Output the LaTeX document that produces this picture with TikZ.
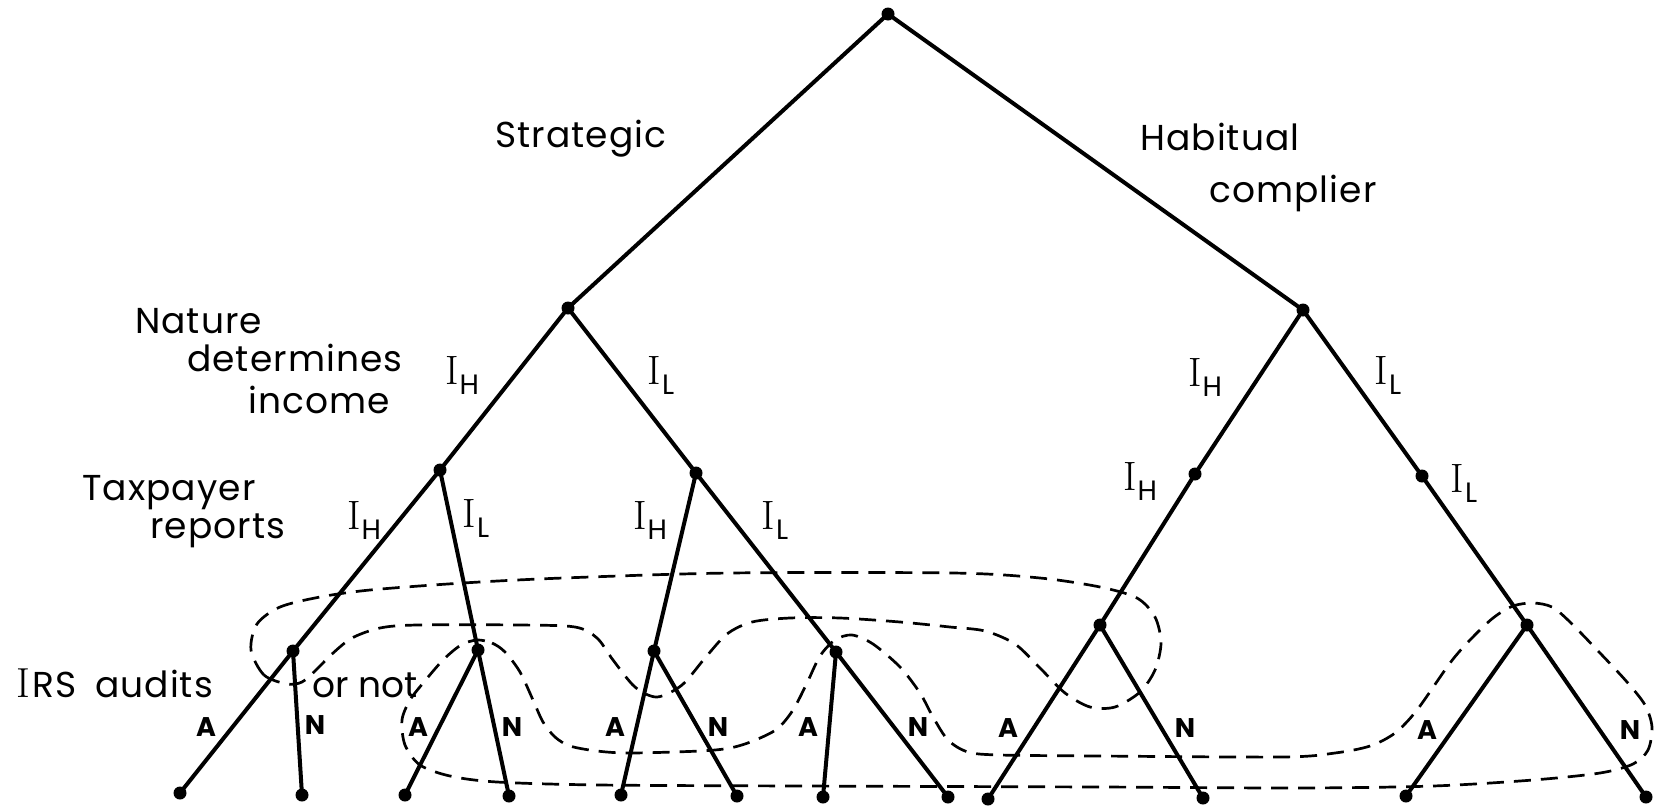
\documentclass[tikz,border=0pt]{standalone}
\usepackage{fontspec}
\newfontfamily\pop{Poppins}
\newfontfamily\popw{Poppins}[LetterSpace=3]
\newcommand\Isub[1]{{\rmfamily\fontsize{41}{41}\selectfont I}\kern1pt\raisebox{-10pt}{\pop\fontsize{28}{28}\selectfont #1}}
\tikzset{
  dot/.style={circle, fill=black, inner sep=0pt, minimum size=13pt},
  edge/.style={line width=4pt, line cap=round},
  infoset/.style={line width=2.7pt, dash pattern=on 17pt off 10pt},
  lev/.style={font=\popw\fontsize{36}{42}\selectfont, inner sep=0pt, anchor=base west},
  an/.style={font=\pop\bfseries\fontsize{27}{27}\selectfont, inner sep=0pt},
  il/.style={inner sep=0pt}
}
\begin{document}
\begin{tikzpicture}[x=1pt,y=-1pt]
\useasboundingbox (0,0) rectangle (1658,807);
% decision nodes
\node[dot] (root) at (888,14) {};
\node[dot] (S) at (568,308) {};
\node[dot] (H) at (1303,310) {};
\node[dot] (SH) at (440,470) {};
\node[dot] (SL) at (696,473) {};
\node[dot] (HH) at (1195,474) {};
\node[dot] (HL) at (1422,476) {};
\node[dot] (a1) at (293,651) {};
\node[dot] (a2) at (478,650) {};
\node[dot] (a3) at (654,651) {};
\node[dot] (a4) at (836,652) {};
\node[dot] (a5) at (1100,625) {};
\node[dot] (a6) at (1527,625) {};
% leaves
\node[dot] (l1a) at (180,793) {};
\node[dot] (l1n) at (302,795) {};
\node[dot] (l2a) at (405,795) {};
\node[dot] (l2n) at (509,796) {};
\node[dot] (l3a) at (621,795) {};
\node[dot] (l3n) at (737,796) {};
\node[dot] (l4a) at (823,797) {};
\node[dot] (l4n) at (948,797) {};
\node[dot] (l5a) at (988,799) {};
\node[dot] (l5n) at (1203,798) {};
\node[dot] (l6a) at (1406,796) {};
\node[dot] (l6n) at (1646,797) {};
% edges
\draw[edge] (root.center) -- (S.center);
\draw[edge] (root.center) -- (H.center);
\draw[edge] (S.center) -- (SH.center);
\draw[edge] (S.center) -- (SL.center);
\draw[edge] (H.center) -- (HH.center);
\draw[edge] (H.center) -- (HL.center);
\draw[edge] (SH.center) -- (a1.center);
\draw[edge] (SH.center) -- (a2.center);
\draw[edge] (SL.center) -- (a3.center);
\draw[edge] (SL.center) -- (a4.center);
\draw[edge] (HH.center) -- (a5.center);
\draw[edge] (HL.center) -- (a6.center);
\foreach \a/\x/\y in {a1/l1a/l1n,a2/l2a/l2n,a3/l3a/l3n,a4/l4a/l4n,a5/l5a/l5n,a6/l6a/l6n}{
  \draw[edge] (\a.center) -- (\x.center);
  \draw[edge] (\a.center) -- (\y.center);
}
% information sets
\draw[infoset] plot[smooth cycle, tension=0.5] coordinates {
 (287,684) (264,675) (251,650) (257,624) (280,607) (320,597) (370,590) (463,583) (563,578)
 (730,573) (953,573) (1040,578) (1100,587) (1137,598) (1155,617) (1161,643) (1155,670)
 (1140,692) (1115,707) (1090,707) (1065,693) (1040,668) (1015,644) (985,631) (950,627)
 (900,622) (840,618) (790,618) (752,622) (727,634) (705,658) (682,685) (657,697)
 (635,687) (613,660) (597,638) (575,627) (520,625) (417,625) (380,628) (352,638)
 (332,654) (316,670) (302,682)};
\draw[infoset] plot[smooth cycle, tension=0.5] coordinates {
 (477,640) (492,643) (505,652) (520,672) (533,700) (543,722) (555,737) (570,746) (597,751)
 (630,753) (700,751) (730,748) (753,741) (777,729) (793,710) (807,683) (820,656)
 (835,640) (852,635) (873,644) (900,667) (920,693) (933,717) (948,740) (968,752)
 (1000,755) (1100,756) (1283,757) (1335,753) (1370,746) (1395,733) (1417,710)
 (1450,663) (1470,640) (1493,618) (1513,606) (1533,603) (1552,607) (1570,622)
 (1600,653) (1627,682) (1645,705) (1652,727) (1648,750) (1633,764) (1600,773)
 (1533,780) (1433,786) (1300,788) (1100,787) (800,786) (600,785) (497,782)
 (450,776) (420,765) (405,745) (402,720) (410,700) (424,682) (443,660) (461,645)};
% level labels
\node[lev] (tS) at (495,147) {Strategic};
\node[lev] (tH1) at (1140,150) {Habitual};
\node[lev] (tH2) at (1209,202) {complier};
\node[lev] (tN1) at (135,333) {Nature};
\node[lev] (tN2) at (187,371) {determines};
\node[lev] (tN3) at (248,413) {income};
\node[lev] (tT1) at (82,500) {Taxpayer};
\node[lev] (tT2) at (150,538) {reports};
\node[lev] (tI) at (16,697) {{\rmfamily\fontsize{42}{42}\selectfont I}\kern3pt RS\hspace{18pt}audits};
\node[lev, font=\pop\fontsize{36}{42}\selectfont] (tO) at (312,697) {or not};
% income / report labels
\node[il] (e1) at (462,375) {\Isub{H}};
\node[il] (e2) at (661,375) {\Isub{L}};
\node[il] (e3) at (1205,377) {\Isub{H}};
\node[il] (e4) at (1388,375) {\Isub{L}};
\node[il] (e5) at (1140,481) {\Isub{H}};
\node[il] (e6) at (1464,483) {\Isub{L}};
\node[il] (e7) at (364,520) {\Isub{H}};
\node[il] (e8) at (476,518) {\Isub{L}};
\node[il] (e9) at (650,520) {\Isub{H}};
\node[il] (e10) at (775,520) {\Isub{L}};
% action labels
\node[an] (n1a) at (206,727) {A};
\node[an] (n1n) at (315,725) {N};
\node[an] (n2a) at (418,727) {A};
\node[an] (n2n) at (512,727) {N};
\node[an] (n3a) at (615,727) {A};
\node[an] (n3n) at (718,727) {N};
\node[an] (n4a) at (808,727) {A};
\node[an] (n4n) at (918,727) {N};
\node[an] (n5a) at (1008,728) {A};
\node[an] (n5n) at (1185,728) {N};
\node[an] (n6a) at (1427,730) {A};
\node[an] (n6n) at (1630,730) {N};
\end{tikzpicture}
\end{document}
